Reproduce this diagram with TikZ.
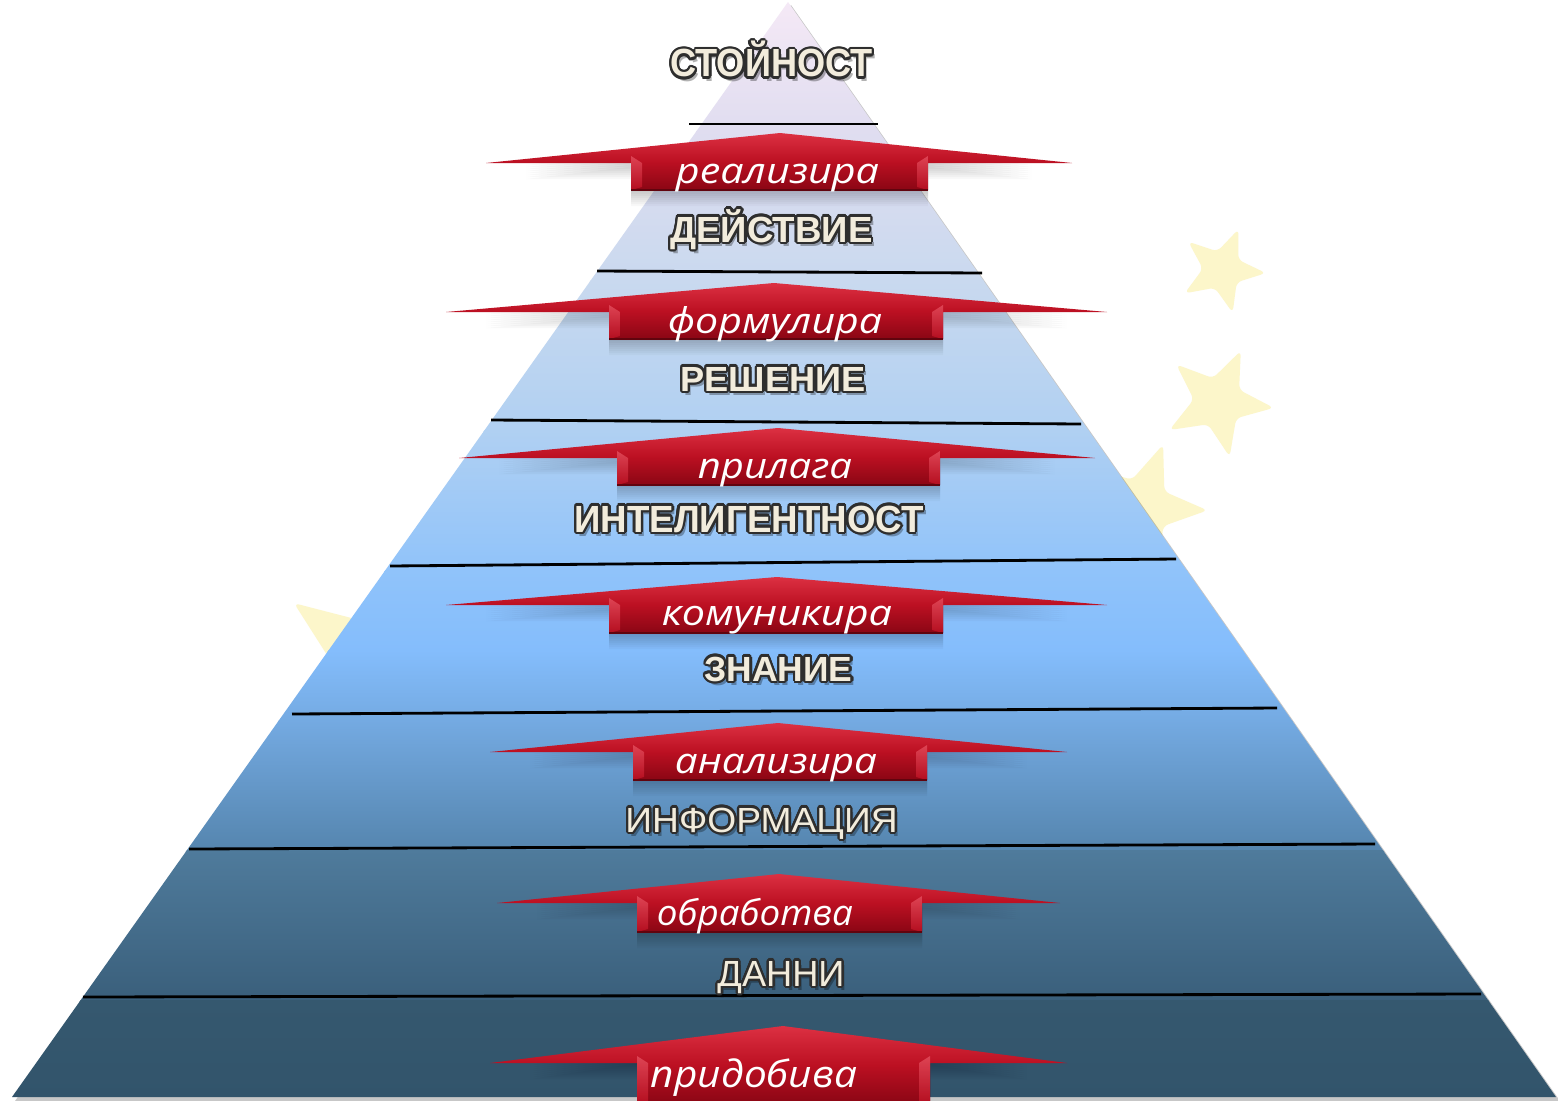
\documentclass[tikz,border=0pt]{standalone}
\usepackage{fontspec}
\usepackage{graphicx}
\newfontfamily\lsans{Liberation Sans}
\newfontfamily\osans{Open Sans}
\usetikzlibrary{shapes.geometric}
\definecolor{cream}{HTML}{F2ECDC}
\definecolor{outl}{HTML}{2E2E2E}
\definecolor{starc}{HTML}{FCF6CA}
\definecolor{arrTop}{HTML}{DC3042}
\definecolor{arrMid}{HTML}{BC1022}
\definecolor{arrBot}{HTML}{8A0614}
\definecolor{bevel}{HTML}{E24C5C}
\definecolor{pA}{HTML}{F5E9F6}
\definecolor{pB}{HTML}{E0DDF0}
\definecolor{pC}{HTML}{C9D9EF}
\definecolor{pD}{HTML}{B0D0F2}
\definecolor{pE}{HTML}{90C3FA}
\definecolor{pF}{HTML}{84BDFC}
\definecolor{pG}{HTML}{74AAE2}
\definecolor{pH}{HTML}{5585AE}
\definecolor{pI}{HTML}{4F7B9C}
\definecolor{pJ}{HTML}{3A5F7B}
\definecolor{pK}{HTML}{35586F}
\definecolor{pL}{HTML}{32546B}
\tikzset{
  lbl/.style={anchor=base, inner sep=0pt, outer sep=0pt},
  atx/.style={anchor=base, inner sep=0pt, outer sep=0pt, text=white},
  sepline/.style={line width=0.8pt, black},
  starnode/.style={star, star points=5, star point ratio=2.3, fill=starc, draw=none, inner sep=0pt, rounded corners=1.5pt},
}
% level label: name, x, baseline y, width, cap height, font, text
\newcommand\lvl[7]{%
  \node[lbl, text=black, text opacity=0.3] at ([shift={(3,4)}]#2,#3) {\resizebox{#4}{#5}{#6\smash{#7}\vphantom{H}}};
  \foreach \a in {0,22.5,...,337.5}{%
    \node[lbl, text=outl] at ([shift={(\a:2.4)}]#2,#3) {\resizebox{#4}{#5}{#6\smash{#7}\vphantom{H}}};}
  \node[lbl, text=cream] (#1) at (#2,#3) {\resizebox{#4}{#5}{#6\smash{#7}\vphantom{H}}};
}
% arrow text: name, x, baseline y, width, x-height, text
\newcommand\atxt[6]{%
  \node[atx] (#1) at (#2,#3) {\resizebox{#4}{#5}{\osans\itshape\smash{#6}\vphantom{x}}};
}
% red arrow: Lx, Rx, apex x, apex y, tip y, body left, body right, body bottom
\newcommand\redarrow[8]{%
  \foreach \s in {2,4,...,16}{%
    \begin{scope}[shift={(0,\s)}]
      \fill[black, opacity=0.028] (#1+40,#5) -- (#3,#4) -- (#2-40,#5) -- (#7,#5) -- (#7,#8) -- (#6,#8) -- (#6,#5) -- cycle;
    \end{scope}}
  \shade[top color=arrTop, bottom color=arrBot, middle color=arrMid] (#1,#5) -- (#3,#4) -- (#2,#5) -- (#7,#5) -- (#7,#8) -- (#6,#8) -- (#6,#5) -- cycle;
  \shade[top color=bevel, bottom color=arrMid, opacity=0.85] (#6,#5-7) -- (#6+11,#5) -- (#6+11,#8-3) -- (#6,#8) -- cycle;
  \shade[top color=bevel, bottom color=arrMid, opacity=0.85] (#7,#5-7) -- (#7-11,#5) -- (#7-11,#8-3) -- (#7,#8) -- cycle;
  \draw[arrBot!70!black, line width=0.5pt] (#6,#8) -- (#7,#8);
}
\begin{document}
\begin{tikzpicture}[x=0.01cm, y=-0.01cm]
\useasboundingbox (0,0) rectangle (1558,1100);
\fill[white] (0,0) rectangle (1558,1100);
% stars behind
\node[starnode, minimum size=0.88cm, rotate=-22] (s1) at (1222,270) {};
\node[starnode, minimum size=1.12cm, rotate=-24] (s2) at (1218,402) {};
\node[starnode, minimum size=1.35cm, rotate=-20] (s3) at (1140,508) {};
\node[starnode, minimum size=2.0cm, rotate=-18] (s4) at (375,662) {};
% pyramid shadow
\fill[black, opacity=0.22] (791,5) -- (1560,1101) -- (15,1101) -- cycle;
% pyramid
\begin{scope}
  \clip (788,2) -- (1556,1097) -- (12,1097) -- cycle;
  \shade[top color=pA, bottom color=pB] (0,0) rectangle (1558,131);
  \shade[top color=pB, bottom color=pC] (0,130) rectangle (1558,281);
  \shade[top color=pC, bottom color=pD] (0,280) rectangle (1558,431);
  \shade[top color=pD, bottom color=pE] (0,430) rectangle (1558,571);
  \shade[top color=pE, bottom color=pF] (0,570) rectangle (1558,651);
  \shade[top color=pF, bottom color=pG] (0,650) rectangle (1558,721);
  \shade[top color=pG, bottom color=pH] (0,720) rectangle (1558,851);
  \shade[top color=pI, bottom color=pJ] (0,850) rectangle (1558,1001);
  \shade[top color=pK, bottom color=pL] (0,1000) rectangle (1558,1100);
\end{scope}
% separating lines
\draw[sepline] (689,124) -- (878,124);
\draw[sepline] (597,271) -- (982,273);
\draw[sepline] (491,420) -- (1081,424);
\draw[sepline] (390,566) -- (1176,559);
\draw[sepline] (292,714) -- (1277,708);
\draw[sepline] (189,849) -- (1375,844);
\draw[sepline] (83,997) -- (1481,994);
% arrows
\redarrow{486}{1072}{780}{133}{163}{631}{928}{190}
\redarrow{446}{1107}{774}{283}{312}{609}{943}{339}
\redarrow{459}{1095}{778}{428}{458}{617}{940}{485}
\redarrow{446}{1107}{777}{577}{605}{609}{943}{633}
\redarrow{490}{1067}{778}{723}{752}{633}{927}{780}
\redarrow{497}{1060}{779}{874}{903}{637}{922}{932}
\redarrow{490}{1067}{783}{1026}{1063}{637}{930}{1104}
% arrow labels
\atxt{t1}{777.5}{183}{2.03cm}{0.19cm}{реализира}
\atxt{t2}{775}{333}{2.14cm}{0.19cm}{формулира}
\atxt{t3}{775}{478}{1.54cm}{0.19cm}{прилага}
\atxt{t4}{777}{625}{2.30cm}{0.19cm}{комуникира}
\atxt{t5}{776}{773}{2.02cm}{0.19cm}{анализира}
\atxt{t6}{755}{925}{1.96cm}{0.19cm}{обработва}
\atxt{t7}{754}{1087}{2.06cm}{0.20cm}{придобива}
% level labels
\lvl{l1}{771.5}{77}{2.02cm}{0.27cm}{\lsans\bfseries}{СТОЙНОСТ}
\lvl{l2}{771.5}{242}{2.02cm}{0.25cm}{\lsans\bfseries}{ДЕЙСТВИЕ}
\lvl{l3}{773}{391}{1.85cm}{0.24cm}{\lsans\bfseries}{РЕШЕНИЕ}
\lvl{l4}{749}{532}{3.49cm}{0.26cm}{\lsans\bfseries}{ИНТЕЛИГЕНТНОСТ}
\lvl{l5}{778.5}{681}{1.48cm}{0.24cm}{\lsans\bfseries}{ЗНАНИЕ}
\lvl{l6}{761.5}{832}{2.72cm}{0.24cm}{\lsans}{ИНФОРМАЦИЯ}
\lvl{l7}{781}{986}{1.27cm}{0.25cm}{\lsans}{ДАННИ}
\end{tikzpicture}
\end{document}
